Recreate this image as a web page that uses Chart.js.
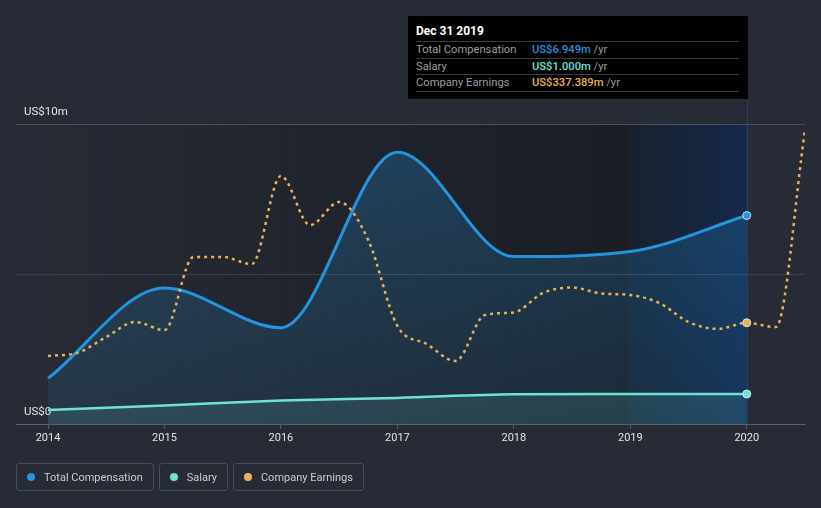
<!DOCTYPE html>
<html>
<head>
<meta charset="utf-8">
<script src="https://cdn.jsdelivr.net/npm/chart.js@4"></script>
<style>
html,body{margin:0;padding:0;background:#262b35;width:821px;height:508px;overflow:hidden;font-family:Roboto,"Noto Sans",sans-serif;}
#wrap{position:relative;width:821px;height:508px;}
#c{position:absolute;left:0;top:0;}
#tip{position:absolute;left:408px;top:16px;width:340px;height:83px;background:#000;}
#tip .title{position:absolute;left:8px;top:8px;height:14px;line-height:14px;font-size:12px;font-weight:bold;color:#fff;}
#tip .row{position:absolute;left:8px;width:323px;height:16.6px;border-top:1px solid #3a3a3a;box-sizing:border-box;font-size:11.2px;line-height:15.6px;white-space:nowrap;}
#tip .row.last{border-bottom:1px solid #3a3a3a;height:17.6px;}
#tip .lab{display:inline-block;width:116px;color:#9a9ea4;}
#tip .val{font-weight:500;}
#tip .unit{color:#9a9ea4;}
#legend{position:absolute;left:16px;top:463px;display:flex;gap:5px;}
#legend .item{height:28px;box-sizing:border-box;border:1px solid #474c57;border-radius:3px;display:flex;align-items:center;padding:0 10px 0 10px;font-size:11px;color:#c9ccd1;}
#legend .dot{width:8px;height:8px;border-radius:50%;margin-right:9px;}
</style>
</head>
<body>
<div id="wrap">
<canvas id="c" width="821" height="508"></canvas>
<div id="tip"></div>
<div id="legend"></div>
</div>
<script>
// ---- data ----
const years = [2014, 2015, 2016, 2017, 2018, 2019, 2020];
const xTickLabels = ['2014', '2015', '2016', '2017', '2018', '2019', '2020'];
const totalComp = [1.52, 4.53, 3.21, 9.06, 5.58, 5.75, 6.949];   // US$ m
const salary = [0.47, 0.62, 0.78, 0.87, 0.99, 1.0, 1.0];          // US$ m
const earnQuarters = [2014, 2014.25, 2014.5, 2014.75, 2015, 2015.25, 2015.5, 2015.75,
  2016, 2016.25, 2016.5, 2016.75, 2017, 2017.25, 2017.5, 2017.75,
  2018, 2018.25, 2018.5, 2018.75, 2019, 2019.25, 2019.5, 2019.75,
  2020, 2020.25, 2020.5];
const earnings = [227, 237, 290, 340, 313, 557, 557, 533,
  827, 663, 740, 613, 327, 267, 210, 363,
  372, 437, 455, 435, 430, 403, 340, 317,
  337.389, 323, 980];                                              // US$ m
const yTicks = [0, 5, 10];
const yTickLabels = ['US$0', '', 'US$10m'];
const seriesNames = ['Total Compensation', 'Salary', 'Company Earnings'];
const seriesColors = ['#2394df', '#6fe3d2', '#e9b15b'];
const tooltipTitle = 'Dec 31 2019';
const highlightYear = 2020;

const compPts = years.map((x, i) => ({x, y: totalComp[i]}));
const salPts = years.map((x, i) => ({x, y: salary[i]}));
const earnPts = earnQuarters.map((x, i) => ({x, y: earnings[i]}));

function markerRadius(ctx) { return (ctx.raw && ctx.raw.x === highlightYear) ? 4 : 0; }

function vgrad(rgbTop, aTop, aBot) {
  return function(ctx) {
    const a = ctx.chart.chartArea;
    if (!a) return 'rgba(' + rgbTop + ',' + aTop + ')';
    const g = ctx.chart.ctx.createLinearGradient(0, a.top, 0, a.bottom);
    g.addColorStop(0, 'rgba(' + rgbTop + ',' + aTop + ')');
    g.addColorStop(1, 'rgba(' + rgbTop + ',' + aBot + ')');
    return g;
  };
}

const bgPlugin = {
  id: 'bg',
  beforeDraw(chart) {
    const {ctx, chartArea: a, scales} = chart;
    const x0 = scales.x.getPixelForValue(2014);
    const x1 = scales.x.getPixelForValue(2019);
    const x2 = scales.x.getPixelForValue(2020);
    ctx.save();
    let g = ctx.createLinearGradient(x0, 0, x1, 0);
    g.addColorStop(0, 'rgba(27,30,37,0)');
    g.addColorStop(1, 'rgba(27,30,37,1)');
    ctx.fillStyle = g;
    ctx.fillRect(x0, a.top, x1 - x0, a.bottom - a.top);
    g = ctx.createLinearGradient(x1, 0, x2, 0);
    g.addColorStop(0, '#18212e');
    g.addColorStop(1, '#15294a');
    ctx.fillStyle = g;
    ctx.fillRect(x1, a.top, x2 - x1, a.bottom - a.top);
    ctx.restore();
  },
  beforeDatasetsDraw(chart) {
    const {ctx, chartArea: a, scales} = chart;
    const x = Math.round(scales.x.getPixelForValue(highlightYear)) + 0.5;
    ctx.save();
    ctx.strokeStyle = '#27426a';
    ctx.lineWidth = 1;
    ctx.beginPath();
    ctx.moveTo(x, 99);
    ctx.lineTo(x, a.bottom);
    ctx.stroke();
    ctx.restore();
  }
};

new Chart(document.getElementById('c'), {
  type: 'line',
  data: {
    datasets: [
      {
        label: seriesNames[2], data: earnPts, yAxisID: 'y2', order: 0,
        borderColor: seriesColors[2], borderWidth: 2.5, borderDash: [3, 4],
        cubicInterpolationMode: 'monotone', fill: false,
        pointRadius: markerRadius, pointBackgroundColor: seriesColors[2],
        pointBorderColor: 'rgba(235,240,245,0.85)', pointBorderWidth: 1
      },
      {
        label: seriesNames[1], data: salPts, yAxisID: 'y', order: 1,
        borderColor: seriesColors[1], borderWidth: 2.5,
        cubicInterpolationMode: 'monotone', fill: 'origin',
        backgroundColor: vgrad('111,227,210', 0.22, 0.12),
        pointRadius: markerRadius, pointBackgroundColor: seriesColors[1],
        pointBorderColor: 'rgba(235,240,245,0.85)', pointBorderWidth: 1
      },
      {
        label: seriesNames[0], data: compPts, yAxisID: 'y', order: 2,
        borderColor: seriesColors[0], borderWidth: 3,
        cubicInterpolationMode: 'monotone', fill: 'origin',
        backgroundColor: vgrad('35,148,223', 0.28, 0.1),
        pointRadius: markerRadius, pointBackgroundColor: seriesColors[0],
        pointBorderColor: 'rgba(235,240,245,0.85)', pointBorderWidth: 1
      }
    ]
  },
  options: {
    responsive: false,
    animation: false,
    events: [],
    layout: {padding: {left: 16, right: 16, top: 124, bottom: 0}},
    plugins: {legend: {display: false}, tooltip: {enabled: false}},
    scales: {
      x: {
        type: 'linear', min: 2013.725, max: 2020.5,
        afterBuildTicks: s => { s.ticks = years.map(v => ({value: v})); },
        ticks: {
          callback: (v, i) => xTickLabels[i], color: '#e2e4e8',
          font: {family: 'Roboto', size: 11}, padding: 3, maxRotation: 0, autoSkip: false
        },
        grid: {display: true, drawOnChartArea: false, drawTicks: true, tickLength: 5, color: '#555a64'},
        border: {display: true, color: '#5a5f69'},
        afterFit: s => { s.height = 84; }
      },
      y: {
        position: 'left', min: 0, max: 10,
        afterBuildTicks: s => { s.ticks = yTicks.map(v => ({value: v})); },
        ticks: {
          mirror: true, padding: 8, labelOffset: -12,
          callback: (v, i) => yTickLabels[i], color: '#e2e4e8',
          font: {family: 'Roboto', size: 11.5}
        },
        grid: {
          drawTicks: false,
          color: c => (c.tick && c.tick.value === 10) ? '#4b505a' : (c.tick && c.tick.value === 0 ? 'rgba(0,0,0,0)' : '#3a3f49')
        },
        border: {display: false},
        afterFit: s => { s.width = 0; }
      },
      y2: {display: false, min: 0, max: 1000}
    }
  },
  plugins: [bgPlugin]
});

// tooltip (text built from the data arrays)
const last = years.indexOf(highlightYear);
const eIdx = earnQuarters.indexOf(highlightYear);
const tipVals = [totalComp[last], salary[last], earnings[eIdx]];
const tip = document.getElementById('tip');
let html = '<div class="title">' + tooltipTitle + '</div>';
const rowTops = [25, 41.6, 58.2];
seriesNames.forEach((n, i) => {
  html += '<div class="row' + (i === 2 ? ' last' : '') + '" style="top:' + rowTops[i] + 'px">' +
    '<span class="lab">' + n + '</span><span class="val" style="color:' + seriesColors[i] + '">US$' +
    tipVals[i].toFixed(3) + 'm</span><span class="unit"> /yr</span></div>';
});
tip.innerHTML = html;

// legend
const lg = document.getElementById('legend');
seriesNames.forEach((n, i) => {
  const d = document.createElement('div');
  d.className = 'item';
  d.innerHTML = '<span class="dot" style="background:' + seriesColors[i] + '"></span><span>' + n + '</span>';
  lg.appendChild(d);
});
</script>
</body>
</html>
